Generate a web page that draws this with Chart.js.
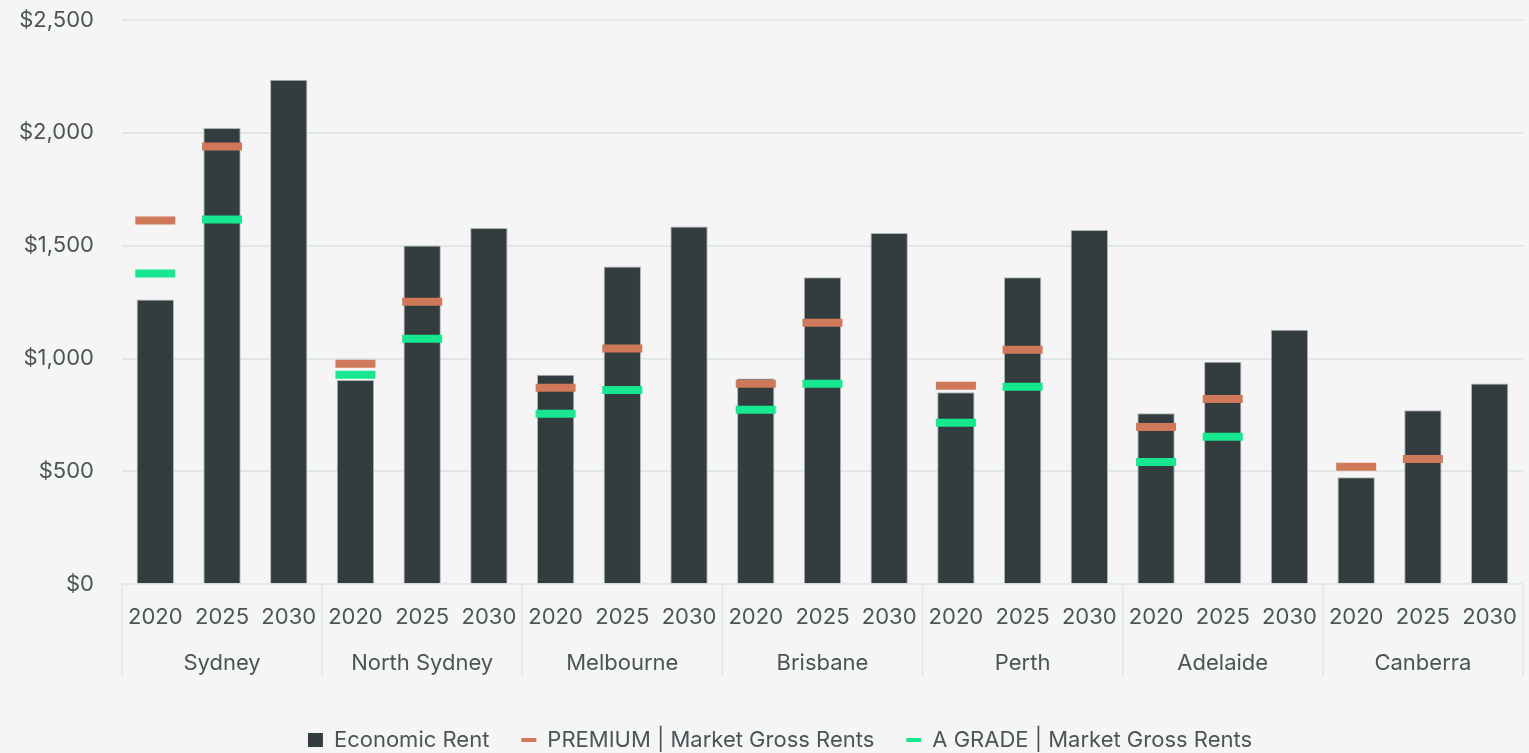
<!DOCTYPE html>
<html>
<head>
<meta charset="utf-8">
<title>Economic Rent vs Market Gross Rents</title>
<script src="https://cdn.jsdelivr.net/npm/chart.js@4.4.1/dist/chart.umd.min.js"></script>
<style>
    html, body { margin: 0; padding: 0; background: #f5f5f5; }
    #wrap { width: 1529px; height: 753px; position: relative; }
</style>
</head>
<body>
<div id="wrap"><canvas id="rentChart"></canvas></div>
<script>
// Rents by city and year ($ per sqm)
const cities = ['Sydney', 'North Sydney', 'Melbourne', 'Brisbane', 'Perth', 'Adelaide', 'Canberra'];
const years = ['2020', '2025', '2030'];
const economicRent = [
    1261, 2022, 2235,
    905, 1501, 1578,
    928, 1408, 1585,
    912, 1360, 1556,
    851, 1360, 1569,
    758, 986, 1127,
    474, 771, 889
];
const premiumRent = [
    1612, 1940, null,
    977, 1252, null,
    870, 1044, null,
    888, 1159, null,
    879, 1039, null,
    697, 821, null,
    520, 555, null
];
const aGradeRent = [
    1377, 1616, null,
    928, 1088, null,
    755, 861, null,
    773, 888, null,
    715, 875, null,
    542, 653, null,
    null, null, null
];
const yTicks = [0, 500, 1000, 1500, 2000, 2500];

const textColor = '#4a5557';
const lineColor = '#e1e6e6';
const cityGap = 20; // extra room between the city row and the legend

Chart.defaults.font.family = 'Inter, "Open Sans", sans-serif';
Chart.defaults.color = textColor;

// vertical dividers between the city groups under the x axis
const groupDividers = {
    id: 'groupDividers',
    afterDraw(chart) {
        const x = chart.scales.x;
        const x2 = chart.scales.x2;
        const ctx = chart.ctx;
        ctx.save();
        ctx.strokeStyle = lineColor;
        ctx.lineWidth = 1.5;
        for (let g = 0; g <= cities.length; g++) {
            const px = x.getPixelForValue(g * years.length - 0.5);
            ctx.beginPath();
            ctx.moveTo(px, x.top);
            ctx.lineTo(px, x2.bottom - cityGap - 1);
            ctx.stroke();
        }
        ctx.restore();
    }
};

// centre the legend under the plot area rather than the whole canvas
const legendShift = {
    id: 'legendShift',
    afterLayout(chart) {
        chart.legend.left += 20;
        chart.legend.right += 20;
    }
};

const yearLabels = cities.flatMap(function () { return years; });

new Chart(document.getElementById('rentChart'), {
    data: {
        labels: yearLabels,
        datasets: [{
            type: 'bar',
            label: 'Economic Rent',
            data: economicRent,
            backgroundColor: '#333d3f',
            borderColor: '#aeb5b5',
            borderWidth: 1,
            pointStyle: 'rect',
            categoryPercentage: 1,
            barPercentage: 0.56,
            order: 2
        }, {
            type: 'line',
            label: 'PREMIUM | Market Gross Rents',
            data: premiumRent,
            showLine: false,
            borderColor: '#d0795a',
            backgroundColor: '#d0795a',
            pointStyle: 'line',
            pointRadius: 20,
            pointBorderWidth: 8,
            pointHoverRadius: 20,
            order: 1
        }, {
            type: 'line',
            label: 'A GRADE | Market Gross Rents',
            data: aGradeRent,
            showLine: false,
            borderColor: '#17e88f',
            backgroundColor: '#17e88f',
            pointStyle: 'line',
            pointRadius: 20,
            pointBorderWidth: 8,
            pointHoverRadius: 20,
            order: 0
        }]
    },
    options: {
        responsive: true,
        maintainAspectRatio: false,
        animation: false,
        events: [],
        layout: {
            autoPadding: false,
            padding: { top: 20, right: 0, left: -9, bottom: -8 }
        },
        plugins: {
            tooltip: { enabled: false },
            legend: {
                position: 'bottom',
                labels: {
                    usePointStyle: true,
                    boxHeight: 14,
                    pointStyleWidth: 15,
                    padding: 32,
                    font: { size: 22 },
                    color: textColor,
                    sort: function (a, b) { return a.datasetIndex - b.datasetIndex; },
                    generateLabels: function (chart) {
                        const items = Chart.defaults.plugins.legend.labels.generateLabels(chart);
                        items.forEach(function (item) {
                            item.lineWidth = item.pointStyle === 'line' ? 4 : 0;
                        });
                        return items;
                    }
                }
            }
        },
        scales: {
            x: {
                type: 'category',
                offset: true,
                grid: { display: false },
                border: { display: true, color: lineColor, width: 2 },
                ticks: { font: { size: 22 }, padding: 12, maxRotation: 0, autoSkip: false }
            },
            x2: {
                type: 'category',
                labels: cities,
                offset: true,
                position: 'bottom',
                grid: { display: false },
                border: { display: false },
                ticks: { font: { size: 22 }, padding: 0, maxRotation: 0, autoSkip: false },
                afterFit: function (scale) {
                    scale.height += cityGap;
                }
            },
            y: {
                min: 0,
                max: 2500,
                afterBuildTicks: function (scale) {
                    scale.ticks = yTicks.map(function (v) { return { value: v }; });
                },
                afterFit: function (scale) {
                    // the tick padding is only meant as horizontal room
                    scale.paddingTop = 13;
                    scale.paddingBottom = 13;
                },
                grid: { color: lineColor, lineWidth: 2, drawTicks: false },
                border: { display: false },
                ticks: {
                    font: { size: 22 },
                    padding: 28,
                    callback: function (v) { return '$' + v.toLocaleString('en-US'); }
                }
            }
        }
    },
    plugins: [groupDividers, legendShift]
});
</script>
</body>
</html>
